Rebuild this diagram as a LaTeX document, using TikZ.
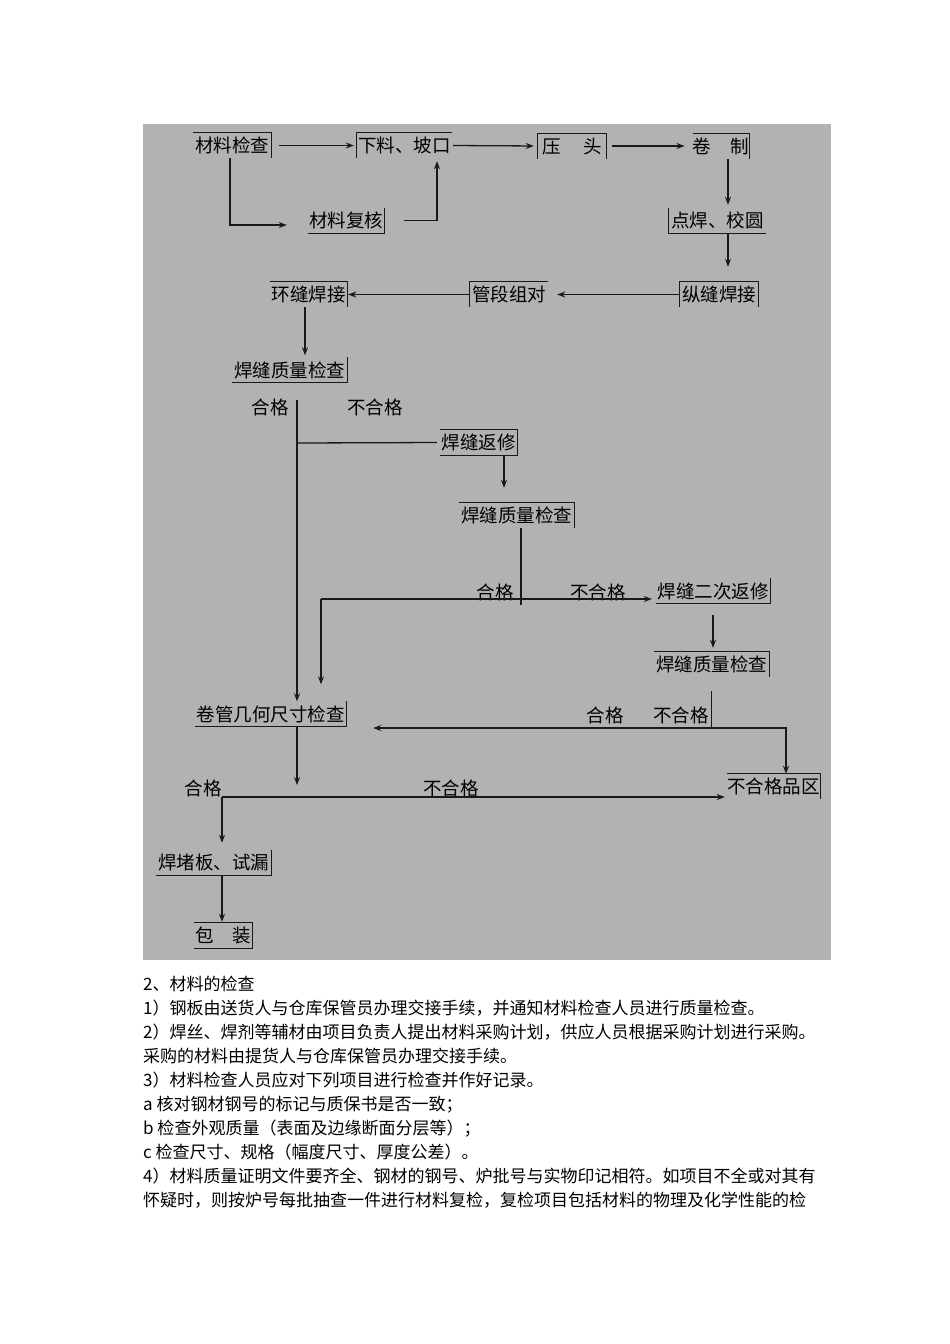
\documentclass[tikz,border=0pt]{standalone}
\usepackage{fontspec}
\setmainfont{Noto Sans CJK SC}
\usetikzlibrary{arrows.meta}
\newcommand\chartfont{\fontsize{18.5pt}{20pt}\selectfont}
\newcommand\parafont{\fontsize{17pt}{24pt}\selectfont}
\tikzset{
  stage/.style={font=\chartfont, inner sep=0pt, minimum height=25pt,
                text height=16.3pt, text depth=2.2pt},
  tag/.style={font=\chartfont, inner sep=0pt, text height=16.3pt, text depth=2.2pt},
  para/.style={font=\parafont, anchor=west, inner sep=0pt,
               text height=15pt, text depth=2pt},
  link/.style={draw=black!90, line width=1.3pt},
  flow/.style={link, -{Stealth[length=8pt,width=6pt]}}
}

\begin{document}
\begin{tikzpicture}[x=1pt, y=-1pt]
  \useasboundingbox (0,0) rectangle (950,1344);
  \fill [black!30] (143,124) rectangle (831,960);

  \node (mat) [stage, minimum width=78pt]  at (232,145.5)   {材料检查};
  \node (xl)  [stage, minimum width=95pt]  at (404.5,145.5) {下料、坡口};
  \node (yt)  [stage, minimum width=68pt]  at (572,146)     {压\hspace{22.5pt}头};
  \node (jz)  [stage, minimum width=56pt]  at (721,146)     {卷\hspace{19.5pt}制};
  \node (fh)  [stage, minimum width=76pt]  at (346,220.5)   {材料复核};
  \node (dh)  [stage, minimum width=97pt]  at (717.5,220.5) {点焊、校圆};
  \node (zf)  [stage, minimum width=78pt]  at (719,294.5)   {纵缝焊接};
  \node (gd)  [stage, minimum width=78pt]  at (509,294.5)   {管段组对};
  \node (hf)  [stage, minimum width=77pt]  at (308.5,294.5) {环缝焊接};
  \node (q1)  [stage, minimum width=115pt] at (289.5,370)   {焊缝质量检查};
  \node (fx)  [stage, minimum width=77pt]  at (478.5,442.5) {焊缝返修};
  \node (q2)  [stage, minimum width=115pt] at (516.5,515.5) {焊缝质量检查};
  \node (fx2) [stage, minimum width=114pt] at (713,591)     {焊缝二次返修};
  \node (q3)  [stage, minimum width=115pt] at (711.5,664.5) {焊缝质量检查};
  \node (jg)  [stage, minimum width=151pt] at (270.5,714)   {卷管几何尺寸检查};
  \node (bq)  [stage, minimum width=93pt]  at (773.5,786.5) {不合格品区};
  \node (dd)  [stage, minimum width=115pt] at (213.5,862.5) {焊堵板、试漏};
  \node (bz)  [stage, minimum width=58pt]  at (223,935.5)   {包\hspace{18.5pt}装};

  \foreach \n in {mat,jz,hf,q2,q3,bq}
    \draw [link] (\n.north west) -| (\n.south east);
  \foreach \n in {fh,q1,fx2,jg,dd}
    \draw [link] (\n.north east) |- (\n.south west);
  \foreach \n in {xl,gd}
    \draw [link] (\n.south west) |- (\n.north east);
  \foreach \n in {yt,zf}
    \draw [link] (\n.south west) |- (\n.north east) -- (\n.south east);
  \foreach \n in {fx,bz}
    \draw [link] (\n.north west) -| (\n.south east) -- (\n.south west);
  \draw [link] (dh.north west) |- (dh.south east);

  \node (ok1) [tag] at (270,407) {合格};
  \node (ng1) [tag] at (375,407) {不合格};
  \node (ok2) [tag] at (495,592) {合格};
  \node (ng2) [tag] at (598,592) {不合格};
  \node (ok3) [tag] at (605,715) {合格};
  \node (ng3) [tag] at (681,715) {不合格};
  \node (ok4) [tag] at (203,788) {合格};
  \node (ng4) [tag] at (451,788) {不合格};

  \coordinate (t1) at (297,400);
  \coordinate (b1) at (297,443);
  \coordinate (b2) at (321,599);
  \coordinate (b3) at (711.5,728);
  \coordinate (b4) at (222,797);

  \draw [flow, shorten <=8pt, shorten >=3pt] (mat.east) -- (xl.west);
  \draw [flow, shorten >=21pt] ([xshift=-2pt]mat.south) |- ([yshift=-4.5pt]fh.west);
  \draw [flow, shorten <=20pt, shorten >=3pt] (fh.east) -| ([xshift=32.5pt]xl.south);
  \draw [flow, shorten <=1pt, shorten >=4pt] (xl.east) -- (yt.west);
  \draw [flow, shorten <=6pt, shorten >=8pt] (yt.east) -- (jz.west);
  \draw [flow, shorten >=3pt] ([xshift=7pt]jz.south) -- ([xshift=10.5pt]dh.north);
  \draw [flow, shorten >=15pt] ([xshift=10.5pt]dh.south) -- ([xshift=9pt]zf.north);
  \draw [flow, shorten >=9pt] (zf.west) -- (gd.east);
  \draw [flow, shorten >=1pt] (gd.west) -- (hf.east);
  \draw [flow, shorten >=2pt] ([xshift=-3.5pt]hf.south) -- ([xshift=15.5pt]q1.north);

  \draw [flow] (t1) -- (t1 |- jg.north);
  \draw [link, shorten >=3pt] (b1) -- (fx.west);
  \draw [flow, shorten >=15pt] ([xshift=25.5pt]fx.south) -- ([xshift=-12.5pt]q2.north);
  \draw [link] ([xshift=4.5pt]q2.south) -- ++(0,77);
  \draw [flow, shorten >=4pt] (b2) -- (fx2.west |- b2);
  \draw [flow, shorten >=17pt] (b2) -- (b2 |- jg.north);
  \draw [flow, shorten <=11pt, shorten >=4pt] (fx2.south) -- (fx2.south |- q3.north);
  \draw [link, shorten <=14pt] (q3.south) -- (b3);
  \draw [flow] (b3) -| ([xshift=12.5pt]bq.north);
  \draw [flow, shorten >=27pt] (b3) -- (jg.east |- b3);
  \draw [flow, shorten >=12pt] (jg.south -| t1) -- (t1 |- b4);
  \draw [flow, shorten >=2pt] (b4) -- (bq.west |- b4);
  \draw [flow, shorten >=7pt] (b4) -- (b4 |- dd.north);
  \draw [flow, shorten >=1pt] (dd.south -| b4) -- (b4 |- bz.north);

  \node (p0) [para] at (143,984)  {2、材料的检查};
  \node (p1) [para] at (143,1008) {1）钢板由送货人与仓库保管员办理交接手续，并通知材料检查人员进行质量检查。};
  \node (p2) [para] at (143,1032) {2）焊丝、焊剂等辅材由项目负责人提出材料采购计划，供应人员根据采购计划进行采购。};
  \node (p3) [para] at (143,1056) {采购的材料由提货人与仓库保管员办理交接手续。};
  \node (p4) [para] at (143,1080) {3）材料检查人员应对下列项目进行检查并作好记录。};
  \node (p5) [para] at (143,1104) {a 核对钢材钢号的标记与质保书是否一致；};
  \node (p6) [para] at (143,1128) {b 检查外观质量（表面及边缘断面分层等）；};
  \node (p7) [para] at (143,1152) {c 检查尺寸、规格（幅度尺寸、厚度公差）。};
  \node (p8) [para] at (143,1176) {4）材料质量证明文件要齐全、钢材的钢号、炉批号与实物印记相符。如项目不全或对其有};
  \node (p9) [para] at (143,1200) {怀疑时，则按炉号每批抽查一件进行材料复检，复检项目包括材料的物理及化学性能的检};
\end{tikzpicture}
\end{document}
